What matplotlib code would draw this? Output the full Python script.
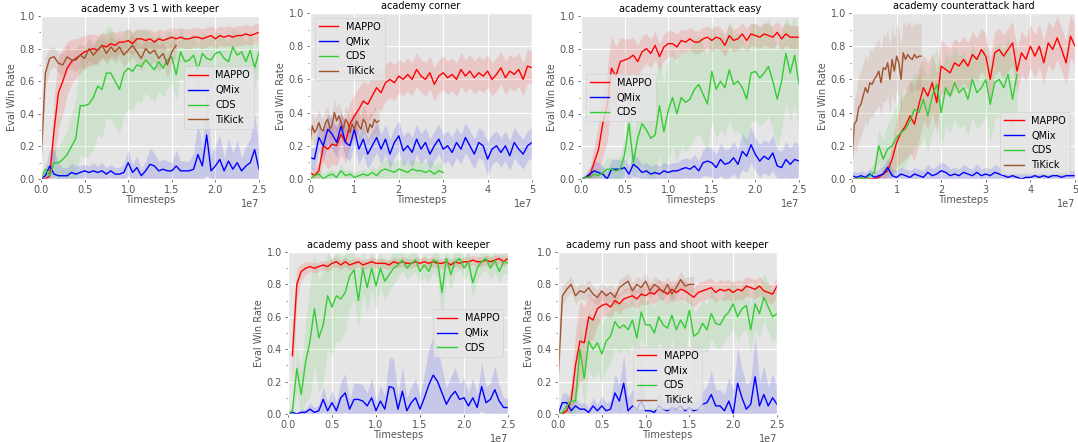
import numpy as np
import matplotlib
matplotlib.use("Agg")
import matplotlib.pyplot as plt
from matplotlib.ticker import AutoMinorLocator

plt.style.use("ggplot")

# ---------------- data (x in units of 1e7 timesteps) ----------------
# academy 3 vs 1 with keeper
p1_mappo = [0.00, 0.00, 0.02, 0.30, 0.53, 0.60, 0.68, 0.72, 0.74, 0.76,
            0.78, 0.79, 0.80, 0.79, 0.82, 0.81, 0.83, 0.82, 0.84, 0.84,
            0.85, 0.83, 0.86, 0.86, 0.85, 0.86, 0.84, 0.86, 0.85, 0.86,
            0.87, 0.86, 0.87, 0.86, 0.86, 0.87, 0.87, 0.86, 0.87, 0.88,
            0.86, 0.88, 0.87, 0.88, 0.87, 0.88, 0.88, 0.89, 0.88, 0.89, 0.90]
p1_mappo_sd = [0.00, 0.01, 0.05, 0.20, 0.22, 0.20, 0.16, 0.14, 0.12, 0.11,
               0.10, 0.10, 0.09, 0.09, 0.08, 0.08, 0.08, 0.08, 0.07, 0.07,
               0.07, 0.07, 0.06, 0.06, 0.06, 0.06, 0.06, 0.06, 0.06, 0.06,
               0.06, 0.06, 0.06, 0.06, 0.06, 0.06, 0.06, 0.06, 0.06, 0.06,
               0.06, 0.06, 0.06, 0.06, 0.06, 0.06, 0.06, 0.06, 0.06, 0.06, 0.06]
p1_qmix = [0.00, 0.02, 0.08, 0.03, 0.02, 0.02, 0.02, 0.04, 0.03, 0.04,
           0.05, 0.04, 0.05, 0.04, 0.05, 0.03, 0.05, 0.03, 0.03, 0.04,
           0.10, 0.04, 0.07, 0.02, 0.05, 0.09, 0.08, 0.05, 0.06, 0.05,
           0.05, 0.08, 0.05, 0.05, 0.05, 0.06, 0.15, 0.08, 0.27, 0.05,
           0.08, 0.12, 0.05, 0.11, 0.06, 0.10, 0.05, 0.08, 0.10, 0.18, 0.06]
p1_qmix_sd = [0.00, 0.05, 0.10, 0.15, 0.08, 0.05, 0.05, 0.06, 0.05, 0.04,
              0.04, 0.04, 0.05, 0.04, 0.05, 0.04, 0.04, 0.04, 0.04, 0.05,
              0.08, 0.05, 0.07, 0.04, 0.06, 0.10, 0.08, 0.06, 0.06, 0.06,
              0.05, 0.10, 0.06, 0.06, 0.06, 0.10, 0.20, 0.12, 0.25, 0.10,
              0.12, 0.15, 0.08, 0.14, 0.10, 0.14, 0.08, 0.12, 0.15, 0.22, 0.12]
p1_cds = [0.00, 0.06, 0.02, 0.10, 0.10, 0.12, 0.15, 0.20, 0.25, 0.45,
          0.45, 0.46, 0.50, 0.57, 0.55, 0.65, 0.65, 0.60, 0.55, 0.65,
          0.68, 0.66, 0.70, 0.69, 0.73, 0.70, 0.67, 0.72, 0.68, 0.73,
          0.75, 0.64, 0.78, 0.72, 0.73, 0.76, 0.67, 0.77, 0.74, 0.73,
          0.77, 0.78, 0.74, 0.72, 0.81, 0.76, 0.78, 0.72, 0.79, 0.68, 0.78]
p1_cds_sd = [0.00, 0.04, 0.04, 0.08, 0.10, 0.12, 0.15, 0.20, 0.25, 0.30,
             0.32, 0.32, 0.32, 0.30, 0.30, 0.28, 0.28, 0.28, 0.27, 0.26,
             0.25, 0.24, 0.22, 0.22, 0.20, 0.20, 0.20, 0.18, 0.18, 0.17,
             0.16, 0.16, 0.15, 0.15, 0.14, 0.14, 0.14, 0.14, 0.13, 0.13,
             0.13, 0.12, 0.12, 0.12, 0.12, 0.12, 0.12, 0.12, 0.12, 0.12, 0.12]
p1_tikick = [0.10, 0.65, 0.74, 0.75, 0.71, 0.70, 0.75, 0.73, 0.73, 0.76,
             0.74, 0.80, 0.76, 0.79, 0.82, 0.77, 0.81, 0.78, 0.81, 0.76,
             0.79, 0.82, 0.78, 0.74, 0.80, 0.77, 0.79, 0.74, 0.77, 0.70,
             0.78, 0.82]
p1_tikick_sd = [0.05, 0.10, 0.07, 0.06, 0.06, 0.07, 0.07, 0.06, 0.07, 0.07,
                0.07, 0.07, 0.07, 0.07, 0.07, 0.07, 0.07, 0.07, 0.07, 0.07,
                0.07, 0.07, 0.07, 0.08, 0.07, 0.07, 0.07, 0.08, 0.07, 0.08,
                0.07, 0.07]

# academy corner
p2_mappo = [0.04, 0.02, 0.05, 0.20, 0.18, 0.21, 0.20, 0.27, 0.22, 0.33,
            0.38, 0.42, 0.47, 0.45, 0.50, 0.55, 0.52, 0.58, 0.60, 0.58,
            0.62, 0.60, 0.63, 0.60, 0.66, 0.62, 0.60, 0.64, 0.57, 0.62,
            0.64, 0.61, 0.63, 0.60, 0.66, 0.62, 0.65, 0.61, 0.64, 0.62,
            0.65, 0.60, 0.63, 0.67, 0.61, 0.65, 0.63, 0.66, 0.60, 0.68, 0.67]
p2_mappo_sd = [0.04, 0.04, 0.06, 0.10, 0.12, 0.12, 0.12, 0.12, 0.13, 0.13,
               0.13, 0.13, 0.12, 0.12, 0.12, 0.12, 0.11, 0.11, 0.11, 0.11,
               0.10, 0.10, 0.10, 0.10, 0.10, 0.10, 0.10, 0.10, 0.10, 0.10,
               0.10, 0.10, 0.10, 0.10, 0.10, 0.10, 0.10, 0.10, 0.10, 0.10,
               0.10, 0.10, 0.10, 0.10, 0.10, 0.10, 0.10, 0.10, 0.10, 0.10, 0.10]
p2_qmix = [0.13, 0.12, 0.25, 0.20, 0.30, 0.27, 0.22, 0.32, 0.22, 0.20,
           0.30, 0.18, 0.24, 0.15, 0.20, 0.25, 0.18, 0.24, 0.15, 0.22,
           0.26, 0.17, 0.20, 0.16, 0.24, 0.18, 0.22, 0.15, 0.20, 0.24,
           0.18, 0.20, 0.16, 0.22, 0.18, 0.25, 0.20, 0.15, 0.22, 0.20,
           0.12, 0.18, 0.20, 0.16, 0.20, 0.14, 0.22, 0.18, 0.15, 0.20, 0.22]
p2_qmix_sd = [0.06, 0.07, 0.08, 0.09, 0.09, 0.09, 0.09, 0.09, 0.09, 0.09,
              0.09, 0.09, 0.09, 0.09, 0.09, 0.09, 0.09, 0.09, 0.09, 0.09,
              0.09, 0.09, 0.09, 0.09, 0.09, 0.09, 0.09, 0.09, 0.09, 0.09,
              0.09, 0.09, 0.09, 0.09, 0.09, 0.09, 0.09, 0.09, 0.09, 0.09,
              0.10, 0.09, 0.09, 0.09, 0.09, 0.09, 0.09, 0.09, 0.09, 0.09, 0.09]
p2_cds = [0.00, 0.02, 0.03, 0.00, 0.02, 0.03, 0.01, 0.05, 0.02, 0.03,
          0.01, 0.02, 0.03, 0.02, 0.04, 0.02, 0.05, 0.06, 0.05, 0.04,
          0.06, 0.05, 0.04, 0.06, 0.05, 0.05, 0.04, 0.05, 0.03, 0.05, 0.04]
p2_cds_sd = [0.01, 0.03, 0.03, 0.03, 0.03, 0.03, 0.03, 0.04, 0.03, 0.03,
             0.03, 0.03, 0.03, 0.03, 0.04, 0.04, 0.05, 0.06, 0.06, 0.06,
             0.06, 0.06, 0.06, 0.06, 0.06, 0.06, 0.06, 0.06, 0.06, 0.06, 0.06]
p2_tikick = [0.22, 0.32, 0.28, 0.30, 0.34, 0.30, 0.29, 0.34, 0.36, 0.30,
             0.33, 0.40, 0.35, 0.38, 0.34, 0.30, 0.36, 0.34, 0.28, 0.33,
             0.30, 0.35, 0.32, 0.30, 0.36, 0.34, 0.28, 0.33, 0.31, 0.36,
             0.34, 0.35]
p2_tikick_sd = [0.06, 0.08, 0.08, 0.08, 0.08, 0.08, 0.08, 0.08, 0.08, 0.08,
                0.08, 0.08, 0.08, 0.08, 0.08, 0.08, 0.08, 0.08, 0.08, 0.08,
                0.08, 0.08, 0.08, 0.08, 0.08, 0.08, 0.08, 0.08, 0.08, 0.08,
                0.08, 0.08]

# academy counterattack easy
p3_mappo = [0.00, 0.01, 0.02, 0.10, 0.18, 0.34, 0.45, 0.68, 0.63, 0.72,
            0.73, 0.74, 0.76, 0.72, 0.78, 0.80, 0.77, 0.82, 0.75, 0.81,
            0.83, 0.83, 0.81, 0.85, 0.84, 0.86, 0.84, 0.84, 0.86, 0.87,
            0.85, 0.87, 0.86, 0.82, 0.88, 0.85, 0.86, 0.89, 0.85, 0.89,
            0.88, 0.87, 0.89, 0.88, 0.87, 0.90, 0.86, 0.89, 0.87, 0.87, 0.87]
p3_mappo_sd = [0.00, 0.01, 0.04, 0.10, 0.15, 0.20, 0.22, 0.20, 0.18, 0.15,
               0.13, 0.12, 0.11, 0.10, 0.10, 0.09, 0.09, 0.09, 0.08, 0.08,
               0.08, 0.08, 0.08, 0.07, 0.07, 0.07, 0.07, 0.07, 0.07, 0.07,
               0.07, 0.07, 0.07, 0.07, 0.07, 0.07, 0.07, 0.07, 0.07, 0.07,
               0.07, 0.07, 0.07, 0.07, 0.07, 0.07, 0.07, 0.07, 0.07, 0.07, 0.07]
p3_qmix = [0.00, 0.01, 0.03, 0.05, 0.04, 0.03, 0.00, 0.06, 0.06, 0.06,
           0.07, 0.03, 0.09, 0.07, 0.04, 0.05, 0.03, 0.04, 0.03, 0.05,
           0.04, 0.05, 0.05, 0.06, 0.07, 0.06, 0.08, 0.05, 0.10, 0.11,
           0.10, 0.07, 0.12, 0.09, 0.10, 0.13, 0.09, 0.17, 0.14, 0.21,
           0.15, 0.11, 0.14, 0.12, 0.16, 0.08, 0.07, 0.12, 0.09, 0.12, 0.11]
p3_qmix_sd = [0.00, 0.02, 0.04, 0.06, 0.06, 0.05, 0.05, 0.06, 0.06, 0.06,
              0.06, 0.05, 0.07, 0.06, 0.05, 0.05, 0.05, 0.05, 0.05, 0.05,
              0.05, 0.05, 0.05, 0.06, 0.06, 0.06, 0.07, 0.06, 0.08, 0.09,
              0.09, 0.08, 0.10, 0.09, 0.09, 0.10, 0.09, 0.11, 0.10, 0.11,
              0.10, 0.10, 0.10, 0.10, 0.11, 0.10, 0.10, 0.11, 0.10, 0.11, 0.10]
p3_cds = [0.00, 0.01, 0.01, 0.03, 0.02, 0.04, 0.06, 0.06, 0.05, 0.06,
          0.15, 0.34, 0.10, 0.25, 0.34, 0.30, 0.25, 0.27, 0.45, 0.29,
          0.42, 0.50, 0.40, 0.50, 0.47, 0.49, 0.55, 0.58, 0.52, 0.46,
          0.66, 0.55, 0.60, 0.56, 0.67, 0.58, 0.60, 0.56, 0.49, 0.65,
          0.66, 0.62, 0.65, 0.69, 0.60, 0.49, 0.60, 0.77, 0.65, 0.76, 0.58]
p3_cds_sd = [0.00, 0.01, 0.02, 0.04, 0.04, 0.05, 0.07, 0.07, 0.07, 0.08,
             0.12, 0.18, 0.15, 0.20, 0.25, 0.28, 0.28, 0.30, 0.30, 0.30,
             0.30, 0.30, 0.30, 0.30, 0.30, 0.30, 0.30, 0.30, 0.30, 0.30,
             0.30, 0.30, 0.30, 0.30, 0.30, 0.30, 0.30, 0.30, 0.30, 0.30,
             0.30, 0.30, 0.30, 0.30, 0.30, 0.30, 0.30, 0.30, 0.30, 0.30, 0.30]

# academy counterattack hard
p4_mappo = [0.00, 0.00, 0.00, 0.00, 0.00, 0.00, 0.01, 0.03, 0.05, 0.12,
            0.22, 0.28, 0.32, 0.38, 0.33, 0.45, 0.55, 0.50, 0.58, 0.46,
            0.68, 0.66, 0.64, 0.70, 0.68, 0.72, 0.68, 0.75, 0.72, 0.78,
            0.74, 0.60, 0.76, 0.78, 0.74, 0.78, 0.82, 0.65, 0.76, 0.72,
            0.80, 0.74, 0.80, 0.70, 0.82, 0.78, 0.85, 0.78, 0.70, 0.86, 0.80]
p4_mappo_sd = [0.00, 0.00, 0.00, 0.00, 0.00, 0.00, 0.01, 0.03, 0.05, 0.10,
               0.15, 0.18, 0.20, 0.22, 0.22, 0.22, 0.20, 0.20, 0.18, 0.18,
               0.16, 0.15, 0.15, 0.15, 0.14, 0.14, 0.14, 0.14, 0.13, 0.13,
               0.13, 0.13, 0.13, 0.13, 0.13, 0.13, 0.13, 0.13, 0.13, 0.13,
               0.13, 0.13, 0.13, 0.13, 0.13, 0.13, 0.13, 0.13, 0.13, 0.13, 0.13]
p4_qmix = [0.02, 0.01, 0.02, 0.01, 0.03, 0.01, 0.02, 0.03, 0.07, 0.02,
           0.01, 0.03, 0.02, 0.01, 0.03, 0.02, 0.01, 0.04, 0.02, 0.03,
           0.05, 0.04, 0.02, 0.03, 0.02, 0.04, 0.03, 0.02, 0.04, 0.02,
           0.03, 0.02, 0.04, 0.03, 0.02, 0.01, 0.02, 0.01, 0.00, 0.01,
           0.01, 0.02, 0.01, 0.02, 0.01, 0.02, 0.02, 0.01, 0.02, 0.02, 0.02]
p4_qmix_sd = [0.03, 0.03, 0.03, 0.03, 0.03, 0.03, 0.04, 0.05, 0.06, 0.04,
              0.04, 0.04, 0.04, 0.04, 0.04, 0.04, 0.04, 0.05, 0.04, 0.05,
              0.05, 0.05, 0.04, 0.04, 0.04, 0.05, 0.04, 0.04, 0.05, 0.04,
              0.04, 0.04, 0.05, 0.04, 0.04, 0.03, 0.03, 0.03, 0.03, 0.03,
              0.03, 0.03, 0.03, 0.03, 0.03, 0.03, 0.03, 0.03, 0.03, 0.03, 0.03]
p4_cds = [0.00, 0.00, 0.01, 0.00, 0.02, 0.04, 0.20, 0.12, 0.18, 0.20,
          0.25, 0.28, 0.30, 0.35, 0.42, 0.40, 0.48, 0.38, 0.50, 0.57,
          0.40, 0.55, 0.50, 0.58, 0.52, 0.55, 0.48, 0.60, 0.52, 0.55,
          0.60, 0.45, 0.58, 0.60, 0.55, 0.63, 0.48, 0.63]
p4_cds_sd = [0.00, 0.01, 0.02, 0.02, 0.04, 0.06, 0.10, 0.12, 0.15, 0.18,
             0.20, 0.22, 0.22, 0.22, 0.22, 0.22, 0.22, 0.22, 0.22, 0.22,
             0.22, 0.22, 0.22, 0.22, 0.22, 0.22, 0.22, 0.22, 0.22, 0.22,
             0.22, 0.22, 0.22, 0.22, 0.22, 0.22, 0.22, 0.22]
p4_tikick = [0.10, 0.33, 0.35, 0.43, 0.45, 0.50, 0.55, 0.52, 0.58, 0.57,
             0.60, 0.62, 0.65, 0.58, 0.67, 0.66, 0.70, 0.60, 0.72, 0.65,
             0.74, 0.70, 0.60, 0.76, 0.72, 0.75, 0.73, 0.72, 0.75, 0.73,
             0.74, 0.74]
p4_tikick_sd = [0.05, 0.15, 0.18, 0.20, 0.20, 0.20, 0.20, 0.20, 0.20, 0.20,
                0.20, 0.20, 0.20, 0.20, 0.20, 0.20, 0.20, 0.20, 0.20, 0.20,
                0.20, 0.20, 0.20, 0.20, 0.20, 0.20, 0.20, 0.20, 0.20, 0.20,
                0.20, 0.20]

# academy pass and shoot with keeper
p5_mappo = [0.36, 0.80, 0.88, 0.90, 0.91, 0.90, 0.91, 0.92, 0.91, 0.93,
            0.94, 0.92, 0.94, 0.92, 0.93, 0.94, 0.92, 0.93, 0.94, 0.93,
            0.93, 0.93, 0.92, 0.94, 0.93, 0.94, 0.93, 0.93, 0.94, 0.93,
            0.94, 0.93, 0.94, 0.93, 0.93, 0.94, 0.92, 0.94, 0.93, 0.94,
            0.94, 0.95, 0.94, 0.94, 0.95, 0.94, 0.95, 0.96, 0.94, 0.96]
p5_mappo_sd = [0.20, 0.10, 0.05, 0.04, 0.03, 0.03, 0.03, 0.03, 0.03, 0.03,
               0.03, 0.03, 0.03, 0.03, 0.03, 0.03, 0.03, 0.03, 0.03, 0.03,
               0.03, 0.03, 0.03, 0.03, 0.03, 0.03, 0.03, 0.03, 0.03, 0.03,
               0.03, 0.03, 0.03, 0.03, 0.03, 0.03, 0.03, 0.03, 0.03, 0.03,
               0.03, 0.03, 0.03, 0.03, 0.03, 0.03, 0.03, 0.03, 0.03, 0.03]
p5_qmix = [0.00, 0.01, 0.00, 0.01, 0.01, 0.03, 0.01, 0.02, 0.09, 0.02,
           0.07, 0.02, 0.10, 0.13, 0.03, 0.09, 0.09, 0.08, 0.05, 0.10,
           0.02, 0.08, 0.03, 0.17, 0.16, 0.03, 0.14, 0.02, 0.07, 0.10,
           0.03, 0.10, 0.18, 0.24, 0.20, 0.13, 0.06, 0.11, 0.14, 0.09,
           0.10, 0.05, 0.10, 0.04, 0.17, 0.07, 0.09, 0.15, 0.08, 0.04, 0.04]
p5_qmix_sd = [0.00, 0.01, 0.01, 0.02, 0.02, 0.04, 0.03, 0.04, 0.08, 0.05,
              0.08, 0.05, 0.10, 0.12, 0.06, 0.10, 0.10, 0.10, 0.08, 0.12,
              0.06, 0.10, 0.08, 0.18, 0.18, 0.08, 0.15, 0.08, 0.10, 0.12,
              0.08, 0.15, 0.22, 0.24, 0.22, 0.15, 0.10, 0.12, 0.15, 0.10,
              0.12, 0.08, 0.12, 0.08, 0.15, 0.10, 0.10, 0.15, 0.10, 0.06, 0.06]
p5_cds = [0.00, 0.02, 0.28, 0.12, 0.32, 0.45, 0.65, 0.47, 0.55, 0.73,
          0.66, 0.73, 0.71, 0.75, 0.85, 0.89, 0.70, 0.90, 0.78, 0.90,
          0.79, 0.90, 0.82, 0.86, 0.90, 0.92, 0.95, 0.90, 0.93, 0.95,
          0.88, 0.92, 0.88, 0.95, 0.94, 0.75, 0.96, 0.86, 0.94, 0.96,
          0.90, 0.94, 0.81, 0.90, 0.94, 0.96, 0.90, 0.95, 0.88, 0.94, 0.93]
p5_cds_sd = [0.01, 0.03, 0.15, 0.15, 0.25, 0.35, 0.35, 0.35, 0.35, 0.33,
             0.30, 0.28, 0.26, 0.24, 0.20, 0.18, 0.18, 0.15, 0.15, 0.14,
             0.14, 0.12, 0.12, 0.10, 0.10, 0.08, 0.07, 0.07, 0.07, 0.07,
             0.07, 0.07, 0.07, 0.07, 0.10, 0.18, 0.10, 0.10, 0.07, 0.07,
             0.07, 0.07, 0.10, 0.07, 0.07, 0.07, 0.07, 0.07, 0.07, 0.07, 0.07]

# academy run pass and shoot with keeper
p6_mappo = [0.00, 0.00, 0.02, 0.08, 0.30, 0.45, 0.44, 0.60, 0.58, 0.65,
            0.67, 0.68, 0.66, 0.70, 0.68, 0.71, 0.72, 0.73, 0.71, 0.74,
            0.73, 0.75, 0.74, 0.77, 0.76, 0.74, 0.77, 0.75, 0.77, 0.76,
            0.74, 0.72, 0.75, 0.76, 0.77, 0.78, 0.75, 0.77, 0.76, 0.77,
            0.75, 0.77, 0.76, 0.79, 0.78, 0.77, 0.79, 0.76, 0.75, 0.74, 0.79]
p6_mappo_sd = [0.00, 0.00, 0.03, 0.10, 0.20, 0.25, 0.22, 0.15, 0.12, 0.10,
               0.08, 0.07, 0.07, 0.06, 0.06, 0.06, 0.06, 0.06, 0.06, 0.06,
               0.06, 0.06, 0.06, 0.06, 0.06, 0.06, 0.06, 0.06, 0.06, 0.06,
               0.06, 0.06, 0.06, 0.06, 0.06, 0.06, 0.06, 0.06, 0.06, 0.06,
               0.06, 0.06, 0.06, 0.06, 0.06, 0.06, 0.06, 0.06, 0.06, 0.06, 0.06]
p6_qmix = [0.00, 0.07, 0.07, 0.02, 0.05, 0.03, 0.03, 0.01, 0.05, 0.02,
           0.05, 0.02, 0.03, 0.13, 0.08, 0.19, 0.02, 0.05, 0.03, 0.08,
           0.02, 0.02, 0.01, 0.05, 0.03, 0.02, 0.04, 0.03, 0.05, 0.02,
           0.04, 0.02, 0.03, 0.06, 0.07, 0.12, 0.05, 0.05, 0.02, 0.08,
           0.00, 0.19, 0.10, 0.03, 0.06, 0.23, 0.05, 0.12, 0.05, 0.10, 0.06]
p6_qmix_sd = [0.00, 0.06, 0.06, 0.04, 0.05, 0.04, 0.04, 0.03, 0.05, 0.04,
              0.06, 0.05, 0.05, 0.12, 0.10, 0.18, 0.08, 0.10, 0.10, 0.15,
              0.08, 0.06, 0.05, 0.08, 0.06, 0.05, 0.06, 0.05, 0.06, 0.05,
              0.06, 0.05, 0.06, 0.08, 0.10, 0.15, 0.10, 0.10, 0.10, 0.15,
              0.15, 0.22, 0.18, 0.15, 0.15, 0.25, 0.15, 0.18, 0.12, 0.15, 0.10]
p6_cds = [0.00, 0.01, 0.05, 0.08, 0.08, 0.40, 0.22, 0.45, 0.40, 0.44,
          0.37, 0.45, 0.48, 0.57, 0.53, 0.55, 0.52, 0.58, 0.47, 0.63,
          0.55, 0.55, 0.50, 0.60, 0.55, 0.53, 0.61, 0.52, 0.58, 0.53,
          0.64, 0.48, 0.50, 0.56, 0.52, 0.62, 0.56, 0.55, 0.60, 0.63,
          0.68, 0.60, 0.65, 0.67, 0.52, 0.68, 0.62, 0.72, 0.66, 0.60, 0.62]
p6_cds_sd = [0.00, 0.02, 0.05, 0.08, 0.10, 0.15, 0.18, 0.18, 0.18, 0.18,
             0.18, 0.17, 0.17, 0.16, 0.16, 0.15, 0.15, 0.15, 0.15, 0.15,
             0.15, 0.15, 0.15, 0.15, 0.15, 0.15, 0.15, 0.15, 0.15, 0.15,
             0.15, 0.15, 0.15, 0.15, 0.15, 0.15, 0.15, 0.15, 0.15, 0.15,
             0.15, 0.15, 0.15, 0.15, 0.15, 0.15, 0.15, 0.15, 0.15, 0.15, 0.15]
p6_tikick = [0.20, 0.73, 0.77, 0.80, 0.73, 0.76, 0.75, 0.78, 0.74, 0.72,
             0.76, 0.73, 0.75, 0.72, 0.78, 0.80, 0.82, 0.76, 0.80, 0.78,
             0.82, 0.76, 0.80, 0.78, 0.75, 0.80, 0.74, 0.78, 0.83, 0.79,
             0.80, 0.80]
p6_tikick_sd = [0.10, 0.06, 0.05, 0.05, 0.05, 0.05, 0.05, 0.05, 0.05, 0.05,
                0.05, 0.05, 0.05, 0.05, 0.05, 0.05, 0.05, 0.05, 0.05, 0.05,
                0.05, 0.05, 0.05, 0.05, 0.05, 0.05, 0.05, 0.05, 0.05, 0.05,
                0.05, 0.05]

titles = ["academy 3 vs 1 with keeper", "academy corner",
          "academy counterattack easy", "academy counterattack hard",
          "academy pass and shoot with keeper",
          "academy run pass and shoot with keeper"]
x_max = [2.5, 5, 2.5, 5, 2.5, 2.5]

COL = {"MAPPO": "red", "QMix": "blue", "CDS": "#33cc33", "TiKick": "#a0522d"}

# (label, mean, sd, x start, x end) per panel, in legend order
panels = [
    [("MAPPO", p1_mappo, p1_mappo_sd, 0, 2.5), ("QMix", p1_qmix, p1_qmix_sd, 0, 2.5),
     ("CDS", p1_cds, p1_cds_sd, 0, 2.5), ("TiKick", p1_tikick, p1_tikick_sd, 0, 1.55)],
    [("MAPPO", p2_mappo, p2_mappo_sd, 0, 5), ("QMix", p2_qmix, p2_qmix_sd, 0, 5),
     ("CDS", p2_cds, p2_cds_sd, 0, 3), ("TiKick", p2_tikick, p2_tikick_sd, 0, 1.55)],
    [("MAPPO", p3_mappo, p3_mappo_sd, 0, 2.5), ("QMix", p3_qmix, p3_qmix_sd, 0, 2.5),
     ("CDS", p3_cds, p3_cds_sd, 0, 2.5)],
    [("MAPPO", p4_mappo, p4_mappo_sd, 0, 5), ("QMix", p4_qmix, p4_qmix_sd, 0, 5),
     ("CDS", p4_cds, p4_cds_sd, 0, 3.7), ("TiKick", p4_tikick, p4_tikick_sd, 0, 1.55)],
    [("MAPPO", p5_mappo, p5_mappo_sd, 0.05, 2.5), ("QMix", p5_qmix, p5_qmix_sd, 0, 2.5),
     ("CDS", p5_cds, p5_cds_sd, 0, 2.5)],
    [("MAPPO", p6_mappo, p6_mappo_sd, 0, 2.5), ("QMix", p6_qmix, p6_qmix_sd, 0, 2.5),
     ("CDS", p6_cds, p6_cds_sd, 0, 2.5), ("TiKick", p6_tikick, p6_tikick_sd, 0, 1.55)],
]
legend_loc = ["center right", "upper left", "center left", "lower right",
              "center right", "lower center"]

# axes boxes in pixels: left, right, top, bottom
boxes = [(41, 259, 16, 179), (310, 532, 13, 179), (581, 799, 16, 179),
         (852, 1075, 13, 179), (288, 508, 252, 414), (558, 777, 252, 414)]

W, H = 1078, 442
fig = plt.figure(figsize=(W / 100, H / 100), dpi=100)
fig.patch.set_facecolor("white")

fs = 7
for i in range(6):
    l, r, t, b = boxes[i]
    ax = fig.add_axes([l / W, 1 - b / H, (r - l) / W, (b - t) / H])
    for name, m, sd, x0, x1 in panels[i]:
        m = np.array(m)
        sd = np.array(sd)
        x = np.linspace(x0, x1, len(m)) * 1e7
        ax.fill_between(x, np.clip(m - sd, 0, 1), np.clip(m + sd, 0, 1),
                        color=COL[name], alpha=0.13, linewidth=0)
        ax.plot(x, m, color=COL[name], linewidth=1.0, label=name)
    ax.set_xlim(0, x_max[i] * 1e7)
    ax.set_ylim(0, 1.0)
    ax.yaxis.set_minor_locator(AutoMinorLocator(2))
    ax.grid(which="minor", visible=False)
    ax.tick_params(labelsize=fs, length=2.5, width=0.6)
    ax.tick_params(axis="x", pad=1.5)
    ax.tick_params(axis="y", pad=2)
    ax.tick_params(which="minor", length=1.5, width=0.5)
    ax.xaxis.get_offset_text().set_fontsize(fs)
    ax.set_title(titles[i], fontsize=fs, pad=3)
    ax.set_xlabel("Timesteps", fontsize=fs, labelpad=0)
    ax.set_ylabel("Eval Win Rate", fontsize=fs, labelpad=2)
    ax.legend(loc=legend_loc[i], fontsize=fs)

fig.savefig("out.png", dpi=100)
